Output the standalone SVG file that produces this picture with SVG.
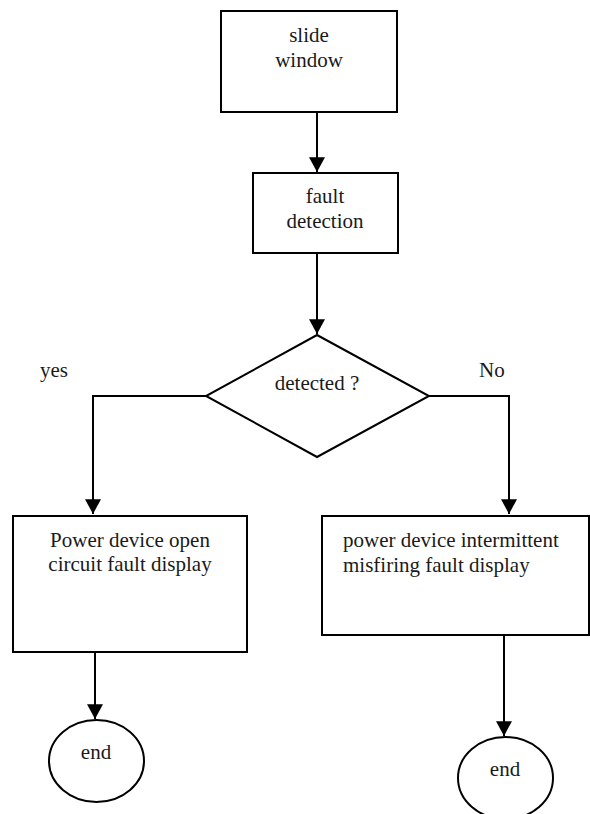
<svg xmlns="http://www.w3.org/2000/svg" width="590" height="814" viewBox="0 0 590 814">
<style>
.shape{fill:#fff;stroke:#000;stroke-width:2}
.line{fill:none;stroke:#000;stroke-width:2}
text{font-family:"Liberation Serif","Times New Roman",serif;font-size:21px;fill:#1a1a1a}
.c{text-anchor:middle}
</style>
<defs>
<marker id="ah" markerUnits="userSpaceOnUse" markerWidth="16" markerHeight="16" viewBox="0 0 14 14" refX="13" refY="7" orient="auto">
<path d="M0,0 L13,7 L0,14 Z" fill="#000"/>
</marker>
</defs>
<rect width="590" height="814" fill="#fff"/>
<g id="connectors">
<path class="line" d="M317,112 V172" marker-end="url(#ah)"/>
<path class="line" d="M317,253 V334" marker-end="url(#ah)"/>
<path class="line" d="M206,396 H93 V514" marker-end="url(#ah)"/>
<path class="line" d="M429,396 H509 V514" marker-end="url(#ah)"/>
<path class="line" d="M95,652 V719" marker-end="url(#ah)"/>
<path class="line" d="M504,635 V736" marker-end="url(#ah)"/>
</g>
<g id="slide-window">
<rect class="shape" x="221" y="11" width="176" height="101"/>
<text class="c" x="309" y="42">slide</text>
<text class="c" x="309" y="67">window</text>
</g>
<g id="fault-detection">
<rect class="shape" x="253" y="173" width="145" height="80"/>
<text class="c" x="325" y="203">fault</text>
<text class="c" x="325" y="228">detection</text>
</g>
<g id="detected">
<polygon class="shape" points="317,335 429,396 317,457 206,396"/>
<text class="c" x="317" y="390">detected ?</text>
</g>
<g id="label-yes"><text x="40" y="377">yes</text></g>
<g id="label-no"><text x="479" y="377">No</text></g>
<g id="open-circuit">
<rect class="shape" x="13" y="516" width="234" height="136"/>
<text class="c" x="130" y="547">Power device open</text>
<text class="c" x="130" y="571">circuit fault display</text>
</g>
<g id="misfiring">
<rect class="shape" x="322" y="516" width="267" height="119"/>
<text x="343" y="547">power device intermittent</text>
<text x="343" y="572">misfiring fault display</text>
</g>
<g id="end-left">
<ellipse class="shape" cx="96.5" cy="761" rx="47.5" ry="41"/>
<text class="c" x="96" y="759">end</text>
</g>
<g id="end-right">
<ellipse class="shape" cx="505.5" cy="778" rx="47.5" ry="41"/>
<text class="c" x="505" y="776">end</text>
</g>
</svg>
